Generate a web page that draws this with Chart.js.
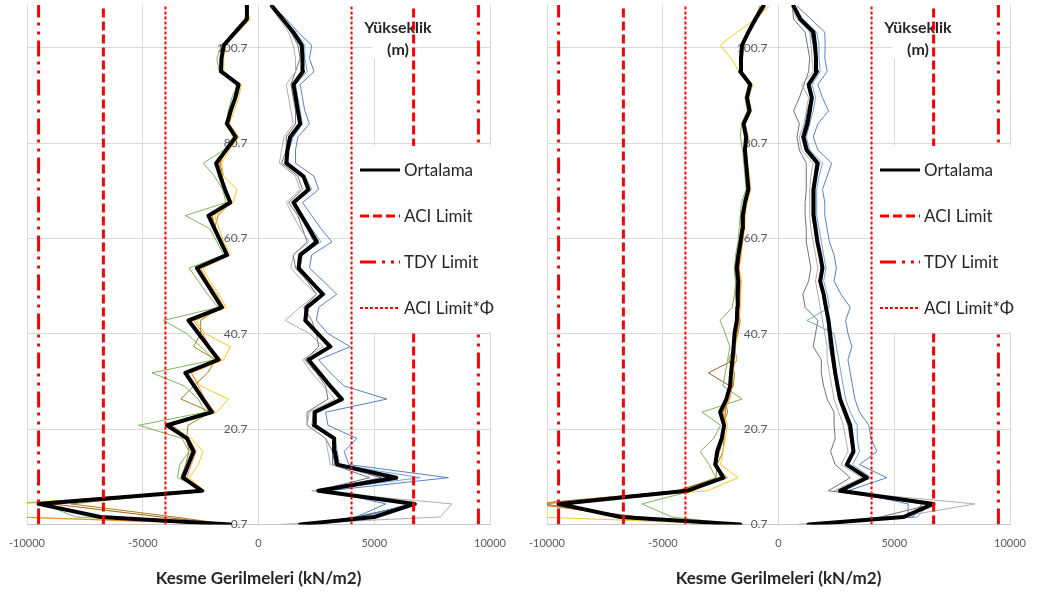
<!DOCTYPE html>
<html>
<head>
<meta charset="utf-8">
<script src="https://cdn.jsdelivr.net/npm/chart.js@4.4.1/dist/chart.umd.min.js"></script>
<style>
  html, body { margin: 0; padding: 0; background: #ffffff; }
  #wrap { position: relative; width: 1038px; height: 601px; overflow: hidden; }
  #panelLeft { position: absolute; left: 0; top: 0; }
  #panelRight { position: absolute; left: 520px; top: 0; }
</style>
</head>
<body>
<div id="wrap">
  <canvas id="panelLeft" width="520" height="601"></canvas>
  <canvas id="panelRight" width="518" height="601"></canvas>
</div>
<script>
// ---- axis values ----
const heights = [0.7, 2.25, 5.0, 7.75, 10.5, 13.25, 16.0, 18.75, 21.5, 24.25,
  27.0, 29.75, 32.5, 35.25, 38.0, 40.75, 43.5, 46.25, 49.0, 51.75,
  54.5, 57.25, 60.0, 62.75, 65.5, 68.25, 71.0, 73.75, 76.5, 79.25,
  82.0, 84.75, 87.5, 90.25, 93.0, 95.75, 98.5, 101.25, 104.0, 106.75,
  109.5];
const xTickValues = [-10000, -5000, 0, 5000, 10000];
const yTickValues = [0.7, 20.7, 40.7, 60.7, 80.7, 100.7];
const yRange = [0.7, 109.7];
const xRange = [-10000, 10000];
// height labels sit just left of the zero line
const heightLabelAnchor = -480;

// ---- limits (kN/m2) ----
const aciLimit = 6700;
const aciPhiLimit = 4020;
const tdyLimit = 9500;

// ---- texts ----
const xAxisTitle = 'Kesme Gerilmeleri (kN/m2)';
const yAxisTitle = ['Yükseklik', '(m)'];
const legendLabels = ['Ortalama', 'ACI Limit', 'TDY Limit', 'ACI Limit*Φ'];

// ---- panel 1: shear stress envelopes per record ----
const p1MeanMin = [-1220, -6830, -9500, -2440, -3260, -3030, -2800, -3090, -3950, -2010,
  -2400, -2780, -3160, -1730, -2160, -2590, -3020, -1580, -1940, -2300,
  -2660, -1360, -1630, -1900, -2160, -1220, -1450, -1650, -1830, -1400,
  -980, -1360, -1200, -1000, -860, -1620, -1600, -1500, -1000, -500,
  -500];
const p1MeanMax = [1800, 5000, 6750, 2590, 5950, 3400, 3300, 3270, 2400, 2420,
  3600, 3100, 2630, 2160, 3100, 2560, 2020, 2090, 2780, 2250,
  1730, 1800, 2520, 2190, 1850, 1510, 2160, 1940, 1200, 1250,
  1370, 1800, 1700, 1610, 1510, 1920, 1900, 1870, 1500, 1040,
  580];
const p1Rec1Min = [-1200, -10300, -10500, -2500, -3100, -2900, -2700, -3000, -3700, -1900,
  -2300, -2600, -2900, -1600, -2100, -2400, -2800, -1500, -1800, -2200,
  -2500, -1300, -1600, -1850, -2000, -1150, -1400, -1600, -1700, -1350,
  -950, -1300, -1150, -950, -800, -1650, -1550, -1450, -950, -450,
  -550];
const p1Rec2Min = [-1100, -10600, -10800, -2350, -3000, -2600, -2400, -2900, -4050, -1800,
  -1300, -2500, -2900, -1500, -1220, -2300, -2700, -1400, -1700, -2100,
  -2400, -1200, -1500, -1700, -1900, -1100, -930, -1500, -1600, -1250,
  -850, -1250, -1050, -850, -750, -1500, -1500, -1450, -900, -350,
  -600];
const p1Rec3Min = [-1250, -7900, -9300, -2300, -3500, -3400, -3000, -3300, -5180, -2300,
  -2600, -3200, -4600, -1900, -2500, -3100, -4100, -1750, -2200, -2600,
  -3000, -1500, -1800, -2100, -3160, -1400, -1550, -1900, -2390, -1500,
  -1100, -1400, -1300, -1150, -900, -1700, -1800, -1600, -1100, -600,
  -450];
const p1Rec4Min = [-1250, -4200, -8900, -2500, -3350, -3100, -2900, -3150, -3800, -2000,
  -2450, -2800, -3200, -1800, -2200, -2650, -3000, -1600, -2000, -2300,
  -2700, -1400, -1650, -1950, -2000, -1250, -1450, -1700, -1800, -1450,
  -1000, -1400, -1250, -1000, -900, -1600, -1650, -1500, -1050, -550,
  -450];
const p1Rec5Min = [-1300, -3600, -8100, -2550, -3350, -3150, -3000, -3100, -3050, -2050,
  -3350, -2800, -2200, -1850, -2800, -2500, -2500, -1650, -2000, -2300,
  -2700, -1400, -1600, -1900, -1750, -1200, -1500, -1550, -1650, -1450,
  -1000, -1450, -1250, -1050, -950, -1650, -1600, -1500, -1000, -550,
  -450];
const p1Rec1Max = [2000, 4200, 5500, 3000, 8200, 3900, 3700, 4250, 3000, 2900,
  5540, 3700, 3100, 2600, 3960, 3000, 2500, 2600, 3380, 2800,
  2200, 2300, 3170, 2700, 2300, 1900, 2600, 2400, 1600, 1600,
  1700, 2200, 2000, 1900, 1800, 2400, 2200, 2300, 1700, 1200,
  600];
const p1Rec2Max = [940, 7850, 8350, 2300, 5500, 3100, 3000, 2900, 2100, 2200,
  3300, 2800, 2300, 1900, 2800, 2200, 1150, 1800, 2500, 1900,
  1400, 1500, 2200, 1800, 1500, 1200, 1800, 1600, 900, 1000,
  1100, 1500, 1400, 1300, 1200, 1600, 1600, 1500, 1300, 900,
  500];
const p1Rec3Max = [1900, 4500, 6500, 2500, 6980, 3500, 3400, 3300, 2300, 2400,
  3500, 3100, 2700, 2200, 3200, 2600, 2100, 2100, 2900, 2300,
  1800, 1900, 2700, 2300, 1900, 1600, 2300, 2000, 1300, 1300,
  1500, 1900, 1800, 1700, 1600, 2100, 2000, 2000, 1600, 1100,
  650];
const p1Rec4Max = [2100, 4300, 6700, 2600, 5300, 3300, 3200, 3200, 2500, 2500,
  3500, 3000, 2600, 2100, 3000, 2500, 2000, 2000, 2700, 2200,
  1700, 1800, 2400, 2100, 1800, 1500, 2100, 1900, 1200, 1200,
  1300, 1800, 1700, 1600, 1500, 1900, 1900, 1800, 1500, 1000,
  550];
const p1Rec5Max = [2100, 4200, 6800, 2500, 4800, 3200, 3200, 2900, 2100, 2100,
  3000, 2900, 2500, 2000, 2600, 2500, 2300, 1950, 2500, 2100,
  1600, 1500, 2100, 1900, 1700, 1300, 1900, 1700, 1000, 1200,
  1200, 1600, 1600, 1500, 1400, 1600, 1800, 1700, 1400, 1000,
  550];

// ---- panel 2 ----
const p2MeanMin = [-1650, -6830, -9500, -3950, -2370, -2730, -2650, -2450, -2350, -2520,
  -2250, -2090, -2050, -1990, -1940, -1900, -1800, -1780, -1760, -1740,
  -1800, -1730, -1640, -1560, -1540, -1450, -1300, -1350, -1400, -1450,
  -1400, -1510, -1250, -1360, -1220, -1650, -1620, -1580, -1300, -1000,
  -650];
const p2MeanMax = [1300, 5400, 6690, 2660, 3820, 2950, 3240, 3170, 3100, 2880,
  2660, 2550, 2450, 2370, 2300, 2230, 2160, 2050, 1950, 1800,
  1900, 1800, 1680, 1600, 1520, 1520, 1510, 1600, 1700, 1220,
  1080, 1250, 1350, 1440, 1300, 1660, 1620, 1580, 1510, 940,
  650];
const p2Rec1Min = [-1650, -6500, -10400, -4300, -2200, -2800, -2600, -2400, -2300, -2400,
  -2100, -2000, -2100, -1800, -1900, -1800, -1700, -1700, -1650, -1650,
  -1700, -1650, -1550, -1500, -1450, -1400, -1250, -1300, -1350, -1400,
  -1300, -1450, -1200, -1300, -1200, -1600, -1550, -1500, -1250, -900,
  -550];
const p2Rec2Min = [-1650, -10400, -10500, -3090, -1740, -2500, -2400, -2300, -2200, -2400,
  -2150, -2000, -1950, -1900, -1850, -1800, -1700, -1650, -1650, -1600,
  -1700, -1600, -1550, -1450, -1450, -1350, -1200, -1250, -1350, -1400,
  -1350, -1450, -1150, -1300, -1100, -1700, -2050, -2520, -1800, -1000,
  -390];
const p2Rec3Min = [-1700, -4600, -5900, -3700, -2700, -3000, -3380, -2800, -2500, -3300,
  -1580, -2400, -2300, -2200, -2100, -2300, -2520, -2000, -1900, -1850,
  -1900, -1850, -1750, -1700, -1650, -1600, -1400, -1450, -1500, -1550,
  -1650, -1600, -1350, -1450, -1300, -1700, -1650, -1600, -1350, -1050,
  -750];
const p2Rec4Min = [-1600, -6000, -10600, -4400, -2500, -2700, -2550, -2400, -2350, -2300,
  -2300, -2100, -3030, -1900, -1950, -1850, -1750, -1750, -1750, -1750,
  -1800, -1750, -1650, -1600, -1550, -1450, -1300, -1350, -1400, -1450,
  -1350, -1550, -1250, -1350, -1250, -1600, -1600, -1500, -1300, -1000,
  -700];
const p2Rec5Min = [-1650, -6650, -10100, -4300, -2700, -2650, -2400, -2350, -2400, -2200,
  -2300, -1950, -1900, -2150, -1900, -1750, -1650, -1800, -1850, -1850,
  -1900, -1800, -1700, -1600, -1650, -1450, -1350, -1400, -1400, -1450,
  -1350, -1500, -1300, -1400, -1250, -1600, -1650, -1550, -1350, -1050,
  -800];
const p2Rec1Max = [1400, 5600, 5600, 3000, 4680, 3500, 4250, 4000, 3900, 3500,
  3300, 3200, 3100, 3000, 3170, 3000, 2900, 3100, 2700, 2400,
  2500, 2400, 2200, 2100, 2000, 2000, 1900, 2100, 2300, 1700,
  1500, 1700, 2160, 1900, 1700, 2100, 2000, 2016, 2000, 1400,
  800];
const p2Rec2Max = [800, 5200, 8490, 2400, 3600, 2700, 3000, 2900, 2800, 2600,
  2400, 2300, 2200, 2100, 2100, 2000, 1900, 1800, 1700, 1600,
  1700, 1600, 1500, 1400, 1350, 1350, 1350, 1400, 1500, 1000,
  900, 1100, 1200, 1300, 1010, 1500, 1450, 1400, 1350, 800,
  550];
const p2Rec3Max = [1300, 6000, 6500, 2600, 4000, 3200, 3500, 3400, 3400, 3100,
  2900, 2800, 2700, 2600, 2500, 2400, 1230, 2200, 2100, 1950,
  2050, 1950, 1850, 1750, 1650, 1650, 1650, 1750, 1900, 1350,
  1200, 1350, 1500, 1600, 1450, 1800, 1750, 1750, 1650, 1050,
  700];
const p2Rec4Max = [1500, 5800, 6200, 2700, 3700, 2900, 3200, 3100, 3000, 2800,
  2600, 2500, 2400, 2300, 2200, 2150, 2100, 2000, 1900, 1750,
  1850, 1750, 1650, 1550, 1450, 1450, 1450, 1550, 1600, 1150,
  1000, 1150, 1250, 1400, 1250, 1600, 1600, 1500, 1400, 900,
  600];
const p2Rec5Max = [1500, 4400, 6700, 2150, 3100, 2450, 2250, 2450, 2400, 2400,
  2100, 1950, 1850, 1850, 1500, 1600, 1700, 1150, 1050, 1300,
  1400, 1300, 1200, 1200, 1150, 1150, 1200, 1200, 1200, 900,
  800, 900, 650, 900, 1100, 1300, 1350, 1250, 1150, 650,
  600];

// ---- styling ----
const FONT = "Lato, 'Open Sans', 'Noto Sans', sans-serif";
const GRID = '#d9d9d9';
const AXIS = '#c8c8c8';
const TICK_TEXT = '#595959';
const RED = '#ff0000';
// record colours: [max side, min side]
const recordColors = [
  ['rgba(68,114,196,0.9)', 'rgba(237,125,49,0.9)'],
  ['rgba(165,165,165,0.9)', 'rgba(255,192,0,0.9)'],
  ['rgba(91,155,213,0.9)', 'rgba(112,173,71,0.9)'],
  ['rgba(38,68,120,0.9)', 'rgba(158,72,14,0.9)'],
  ['rgba(99,99,99,0.9)', 'rgba(153,115,0,0.9)']
];
const limitStyles = {
  'ACI Limit': { width: 3, dash: [9, 4] },
  'TDY Limit': { width: 3, dash: [16, 6, 3, 6, 3, 5] },
  'ACI Limit*Φ': { width: 2, dash: [3, 2] }
};

function profile(values) {
  return values.map((v, i) => ({ x: v, y: heights[i] }));
}
function verticalAt(x) {
  return [{ x: x, y: yRange[0] }, { x: x, y: yRange[1] }];
}

function buildDatasets(panel) {
  const ds = [];
  const limits = [[legendLabels[1], aciLimit], [legendLabels[2], tdyLimit], [legendLabels[3], aciPhiLimit]];
  limits.forEach(([label, value]) => {
    const st = limitStyles[label];
    [-value, value].forEach(x => ds.push({
      label: label, data: verticalAt(x), borderColor: RED,
      borderWidth: st.width, borderDash: st.dash, borderCapStyle: 'butt', order: 0
    }));
  });
  [panel.meanMin, panel.meanMax].forEach(arr => ds.push({
    label: legendLabels[0], data: profile(arr), borderColor: '#000000', borderWidth: 4,
    borderJoinStyle: 'round', borderCapStyle: 'round', order: 1
  }));
  panel.records.forEach((rec, i) => {
    ds.push({ label: 'Kayıt ' + (i + 1) + ' maks', data: profile(rec[0]), borderColor: recordColors[i][0],
      borderWidth: 1, borderJoinStyle: 'round', order: 2 });
    ds.push({ label: 'Kayıt ' + (i + 1) + ' min', data: profile(rec[1]), borderColor: recordColors[i][1],
      borderWidth: 1, borderJoinStyle: 'round', order: 2 });
  });
  return ds;
}

// height-axis caption and the legend box drawn inside the plot
const panelOverlay = {
  id: 'panelOverlay',
  beforeDatasetsDraw(chart) {
    const ctx = chart.ctx;
    const r = chart.chartArea.right;
    ctx.save();
    ctx.fillStyle = '#ffffff';
    ctx.fillRect(r - 118, 0, 40, 58);
    ctx.fillStyle = '#262626';
    ctx.font = 'bold 16px ' + FONT;
    ctx.textAlign = 'center';
    ctx.textBaseline = 'middle';
    ctx.fillText(yAxisTitle[0], r - 92, 28);
    ctx.fillText(yAxisTitle[1], r - 92, 50);
    ctx.restore();
  },
  afterDatasetsDraw(chart) {
    const ctx = chart.ctx;
    const r = chart.chartArea.right;
    const boxLeft = r - 136, boxTop = 146;
    ctx.save();
    ctx.fillStyle = '#ffffff';
    ctx.fillRect(boxLeft, boxTop, 152, 186);
    const rows = [170, 216, 262, 308];
    legendLabels.forEach((label, i) => {
      const d = chart.data.datasets.find(s => s.label === label);
      const y = rows[i];
      ctx.beginPath();
      ctx.strokeStyle = d.borderColor;
      ctx.lineWidth = Math.min(d.borderWidth, 3);
      ctx.setLineDash(d.borderDash || []);
      ctx.lineCap = 'butt';
      ctx.moveTo(boxLeft + 6, y);
      ctx.lineTo(boxLeft + 46, y);
      ctx.stroke();
      ctx.setLineDash([]);
      ctx.fillStyle = '#262626';
      ctx.font = '17px ' + FONT;
      ctx.textAlign = 'left';
      ctx.textBaseline = 'middle';
      ctx.fillText(label, boxLeft + 50, y + 1);
    });
    ctx.restore();
  }
};

function makeChart(canvasId, panel, rightPad) {
  return new Chart(document.getElementById(canvasId), {
    type: 'line',
    data: { datasets: buildDatasets(panel) },
    plugins: [panelOverlay],
    options: {
      indexAxis: 'y',
      responsive: false,
      animation: false,
      events: [],
      spanGaps: true,
      elements: { point: { radius: 0 }, line: { tension: 0 } },
      layout: { padding: { left: 27, right: rightPad, top: 5, bottom: 8 } },
      plugins: { legend: { display: false }, tooltip: { enabled: false } },
      scales: {
        x: {
          type: 'linear', min: xRange[0], max: xRange[1],
          afterBuildTicks: s => { s.ticks = xTickValues.map(v => ({ value: v })); },
          afterFit: s => { s.paddingLeft = 0; s.paddingRight = 0; },
          grid: { color: GRID, drawTicks: false },
          border: { display: true, color: AXIS },
          ticks: { color: TICK_TEXT, font: { family: FONT, size: 11 }, padding: 12,
            maxRotation: 0, autoSkip: false, callback: v => String(v) },
          title: { display: true, text: xAxisTitle, color: '#262626',
            font: { family: FONT, size: 17, weight: 'bold' }, padding: { top: 7, bottom: 4 } }
        },
        y: {
          type: 'linear', position: { x: heightLabelAnchor }, min: yRange[0], max: yRange[1],
          afterBuildTicks: s => { s.ticks = yTickValues.map(v => ({ value: v })); },
          afterFit: s => { s.paddingTop = 0; s.paddingBottom = 0; },
          grid: { color: GRID, drawTicks: false },
          border: { display: false },
          ticks: { color: TICK_TEXT, font: { family: FONT, size: 12 }, padding: 0,
            callback: v => Number(v).toFixed(1) }
        }
      }
    }
  });
}

makeChart('panelLeft', {
  meanMin: p1MeanMin, meanMax: p1MeanMax,
  records: [[p1Rec1Max, p1Rec1Min], [p1Rec2Max, p1Rec2Min], [p1Rec3Max, p1Rec3Min],
            [p1Rec4Max, p1Rec4Min], [p1Rec5Max, p1Rec5Min]]
}, 30);
makeChart('panelRight', {
  meanMin: p2MeanMin, meanMax: p2MeanMax,
  records: [[p2Rec1Max, p2Rec1Min], [p2Rec2Max, p2Rec2Min], [p2Rec3Max, p2Rec3Min],
            [p2Rec4Max, p2Rec4Min], [p2Rec5Max, p2Rec5Min]]
}, 28);
</script>
</body>
</html>
